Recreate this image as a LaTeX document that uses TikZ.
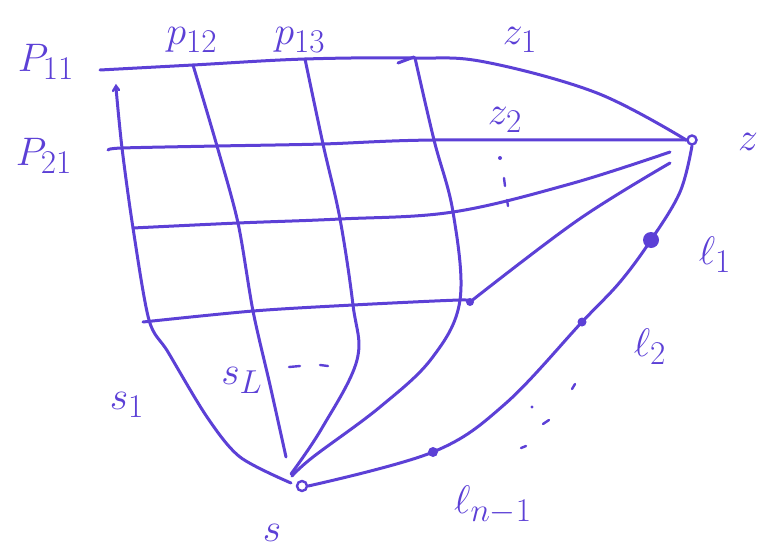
\documentclass[tikz,border=0pt]{standalone}
\usepackage{amsmath}
\definecolor{ink}{RGB}{92,64,214}
\tikzset{
  pen/.style={draw=ink, line width=3pt, line cap=round, line join=round},
  thin pen/.style={draw=ink, line width=2.4pt, line cap=round},
  lab/.style={text=ink, font=\Huge, scale=1.6, inner sep=0pt},
  hollow/.style={circle, draw=ink, line width=2.4pt, fill=white, minimum size=9pt, inner sep=0pt},
  dotn/.style={circle, fill=ink, inner sep=0pt}
}
\begin{document}
\begin{tikzpicture}[x=1pt,y=-1pt]
\useasboundingbox (0,0) rectangle (767,551);
% grid points
\coordinate (r1s) at (100,70);
\coordinate (g12) at (193,65);
\coordinate (g13) at (305,59);
\coordinate (g14) at (415,58);
\coordinate (r1b) at (485,62);
\coordinate (r1c) at (597,93);
\coordinate (r2s) at (108,150);
\coordinate (g21) at (122,148);
\coordinate (g22) at (217,146);
\coordinate (g23) at (323,144);
\coordinate (g24) at (434,140);
\coordinate (g31) at (133,228);
\coordinate (g32) at (238,223);
\coordinate (g33) at (340,219);
\coordinate (g34) at (453,212);
\coordinate (r3b) at (570,184);
\coordinate (r3e) at (670,152);
\coordinate (r4s) at (143,322);
\coordinate (g42) at (253,311);
\coordinate (g43) at (353,305);
\coordinate (g44) at (460,300);
\coordinate (r4b) at (578,220);
\coordinate (r4e) at (670,163);
\coordinate (c1t) at (116,88);
\coordinate (c1a) at (149,320);
\coordinate (c1m) at (168,352);
\coordinate (c1b) at (207,417);
\coordinate (c1c) at (240,457);
\coordinate (c1e) at (291,483);
\coordinate (c2a) at (270,385);
\coordinate (c2e) at (286,457);
\coordinate (c3a) at (357,360);
\coordinate (c3b) at (322,428);
\coordinate (c3e) at (291,474);
\coordinate (c4a) at (432,358);
\coordinate (c4b) at (380,407);
\coordinate (c4c) at (313,457);
\coordinate (c4e) at (292,476);
\coordinate (a1) at (680,192);
\coordinate (a2) at (620,282);
\coordinate (a3) at (505,404);
% special nodes
\node[hollow] (Z) at (692,140) {};
\node[hollow, minimum size=10pt] (S) at (302,486) {};
\node[dotn, minimum size=16pt] (l1) at (651,240) {};
\node[dotn, minimum size=9pt] (l2) at (582,322) {};
\node[dotn, minimum size=10pt] (ln) at (433,452) {};
\node[dotn, minimum size=8pt] (d4) at (470,302) {};
% rows
\draw[pen] plot[smooth, tension=0.6] coordinates {(r1s) (g12) (g13) (g14) (r1b) (r1c) (Z.west)};
\draw[pen] plot[smooth, tension=0.5] coordinates {(r2s) (g21) (g22) (g23) (g24) (Z.west)};
\draw[pen] plot[smooth, tension=0.6] coordinates {(g31) (g32) (g33) (g34) (r3b) (r3e)};
\draw[pen] plot[smooth, tension=0.5] coordinates {(r4s) (g42) (g43) (g44) (d4)};
\draw[pen] plot[smooth, tension=0.6] coordinates {(d4) (r4b) (r4e)};
% columns
\draw[pen] plot[smooth, tension=0.5] coordinates {(c1t) (g21) (g31) (c1a) (c1m) (c1b) (c1c) (c1e)};
\draw[pen] plot[smooth, tension=0.5] coordinates {(g12) (g22) (g32) (g42) (c2a) (c2e)};
\draw[pen] plot[smooth, tension=0.6] coordinates {(g13) (g23) (g33) (g43) (c3a) (c3b) (c3e)};
\draw[pen] plot[smooth, tension=0.6] coordinates {(g14) (g24) (g34) (g44) (c4a) (c4b) (c4c) (c4e)};
% boundary arc z -> s
\draw[pen] plot[smooth, tension=0.6] coordinates {(Z.south) (a1) (l1) (a2) (l2) (a3) (ln) (S.east)};
% small marks
\draw[pen] (398,63) -- (414,57);
\draw[thin pen] (113,91) -- (116,86) -- (119,90);
% vertical dots
\fill[ink] (500,158) circle (2pt);
\draw[thin pen] (504,178) -- (505,186);
\draw[thin pen] (507,200) -- (508,206);
% diagonal dots
\draw[thin pen] (572,389) -- (575,384);
\fill[ink] (532,407) circle (1.6pt);
\draw[thin pen] (543,424) -- (549,420);
\draw[thin pen] (521,448) -- (526,446);
% dashes near s_L
\draw[thin pen] (289,367) -- (300,366);
\draw[thin pen] (320,365) -- (328,366);
% labels
\node[lab] (tP11) at (46,62) {$P_{11}$};
\node[lab] (tP12) at (192,40) {$p_{12}$};
\node[lab] (tP13) at (300,40) {$p_{13}$};
\node[lab] (tP21) at (44,156) {$P_{21}$};
\node[lab] (tz1) at (520,40) {$z_1$};
\node[lab] (tz2) at (505,120) {$z_2$};
\node[lab] (tz) at (748,142) {$z$};
\node[lab] (tl1) at (715,255) {$\ell_1$};
\node[lab] (tl2) at (650,347) {$\ell_2$};
\node[lab] (tln) at (493,505) {$\ell_{n-1}$};
\node[lab] (ts1) at (127,405) {$s_1$};
\node[lab] (tsL) at (242,380) {$s_L$};
\node[lab] (tS) at (272,533) {$s$};
\end{tikzpicture}
\end{document}
